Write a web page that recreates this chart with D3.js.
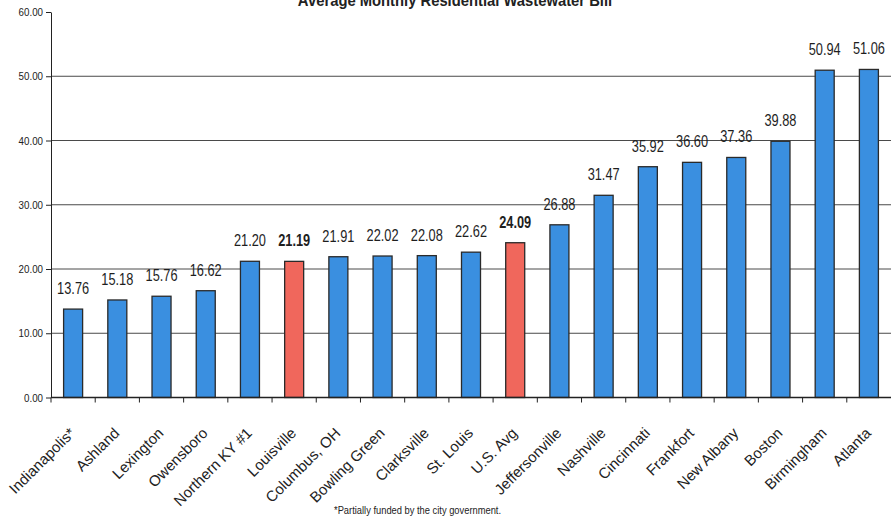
<!DOCTYPE html>
<html>
<head>
<meta charset="utf-8">
<script src="https://cdn.jsdelivr.net/npm/d3@7/dist/d3.min.js"></script>
<style>
  html, body { margin: 0; padding: 0; background: #fff; }
  svg { display: block; }
  text { font-family: "Liberation Sans", Arial, sans-serif; }
</style>
</head>
<body>
<svg id="chart" width="891" height="520"></svg>
<script>
// Average monthly residential wastewater bill by city (USD)
const categories = [
  "Indianapolis*", "Ashland", "Lexington", "Owensboro", "Northern KY #1",
  "Louisville", "Columbus, OH", "Bowling Green", "Clarksville", "St. Louis",
  "U.S. Avg", "Jeffersonville", "Nashville", "Cincinnati", "Frankfort",
  "New Albany", "Boston", "Birmingham", "Atlanta"
];
const values = [
  13.76, 15.18, 15.76, 16.62, 21.20,
  21.19, 21.91, 22.02, 22.08, 22.62,
  24.09, 26.88, 31.47, 35.92, 36.60,
  37.36, 39.88, 50.94, 51.06
];
// Bars set apart from the others (home city and national average)
const highlighted = ["Louisville", "U.S. Avg"];
const yTicks = [0, 10, 20, 30, 40, 50, 60];
const title = "Average Monthly Residential Wastewater Bill";
const footnote = "*Partially funded by the city government.";

const data = categories.map((c, i) => ({ name: c, value: values[i], hi: highlighted.includes(c) }));

const svg = d3.select("#chart");
const plotLeft = 51, plotRight = 891, plotTop = 12, plotBottom = 397.5;
// horizontal squeeze used to get a condensed face from the installed sans
const condensed = 0.8;

const y = d3.scaleLinear().domain([0, 60]).range([plotBottom, plotTop]);
const x = d3.scaleBand().domain(categories).range([plotLeft, plotRight])
  .paddingInner(0.57).paddingOuter(0.285);

// Title (runs off the top edge)
svg.append("text")
  .attr("transform", "translate(455,6) scale(0.87,1)")
  .attr("text-anchor", "middle")
  .attr("font-weight", "bold")
  .attr("font-size", 17)
  .attr("fill", "#222")
  .text(title);

// Horizontal gridlines
svg.append("g").selectAll("line")
  .data(yTicks.filter(t => t > 0 && t < 60))
  .join("line")
  .attr("x1", plotLeft).attr("x2", plotRight)
  .attr("y1", d => y(d)).attr("y2", d => y(d))
  .attr("stroke", "#4a4a4a").attr("stroke-width", 1);

// Y axis
const yAxis = svg.append("g")
  .attr("transform", `translate(${plotLeft},0)`)
  .call(d3.axisLeft(y).tickValues(yTicks).tickFormat(d3.format(".2f")).tickSize(5).tickSizeOuter(0));
yAxis.select(".domain").attr("stroke", "#222");
yAxis.selectAll(".tick line").attr("stroke", "#222");
yAxis.selectAll(".tick text")
  .attr("font-size", 11.5)
  .attr("font-family", "Liberation Sans, Arial, sans-serif")
  .attr("fill", "#222")
  .attr("x", null)
  .attr("transform", "translate(-8,0) scale(0.85,1)");

// Bars
svg.append("g").selectAll("rect")
  .data(data)
  .join("rect")
  .attr("x", d => x(d.name))
  .attr("width", x.bandwidth())
  .attr("y", d => y(d.value))
  .attr("height", d => y(0) - y(d.value))
  .attr("fill", d => d.hi ? "#f0675c" : "#3a8fe0")
  .attr("stroke", "#2a2a2a")
  .attr("stroke-width", 1.3);

// X axis line and ticks at category boundaries
svg.append("line")
  .attr("x1", plotLeft).attr("x2", plotRight)
  .attr("y1", y(0)).attr("y2", y(0))
  .attr("stroke", "#222").attr("stroke-width", 1.3);
const gap = (x.step() - x.bandwidth()) / 2;
const boundaries = categories.map(c => x(c) - gap);
svg.append("g").selectAll("line")
  .data(boundaries)
  .join("line")
  .attr("x1", d => d).attr("x2", d => d)
  .attr("y1", y(0)).attr("y2", y(0) + 5)
  .attr("stroke", "#222");

// Value labels
svg.append("g").selectAll("text")
  .data(data)
  .join("text")
  .attr("transform", d => `translate(${x(d.name) + x.bandwidth() / 2},${y(d.value) - 15}) scale(${condensed},1)`)
  .attr("text-anchor", "middle")
  .attr("font-size", 16)
  .attr("font-weight", d => d.hi ? "bold" : "normal")
  .attr("fill", "#1e1e1e")
  .text(d => d.value.toFixed(2));

// Category labels, rotated
svg.append("g").selectAll("text")
  .data(data)
  .join("text")
  .attr("transform", d => `translate(${x(d.name) + x.bandwidth() / 2 + 3},434) rotate(-45)`)
  .attr("text-anchor", "end")
  .attr("font-size", 15)
  .attr("fill", "#222")
  .text(d => d.name);

// Footnote
svg.append("text")
  .attr("transform", "translate(334,514) scale(0.85,1)")
  .attr("font-size", 11)
  .attr("fill", "#222")
  .text(footnote);
</script>
</body>
</html>
